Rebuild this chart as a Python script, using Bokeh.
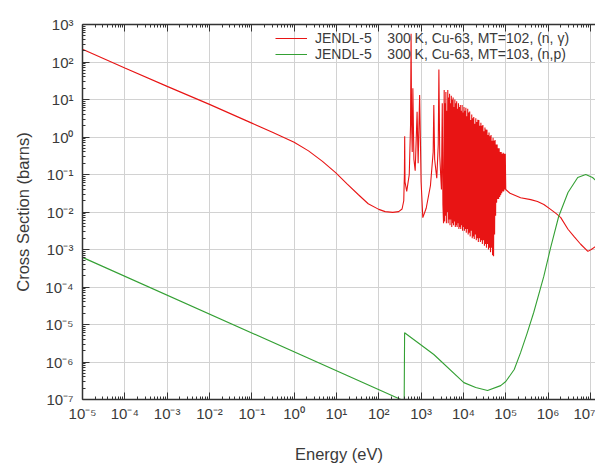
import numpy as np
from bokeh.plotting import figure
from bokeh.models import (FixedTicker, LogAxis, Legend, LegendItem,
                          CustomJSTickFormatter, Range1d)
from bokeh.embed import file_html
from bokeh.resources import INLINE

# ---------------- data (log10 units) ----------------
x_tick_exponents = list(range(-5, 8))
x_tick_labels = ["10⁻⁵", "10⁻⁴", "10⁻³", "10⁻²", "10⁻¹", "10⁰", "10¹",
                 "10²", "10³", "10⁴", "10⁵", "10⁶", "10⁷"]
y_tick_exponents = list(range(-7, 4))
y_tick_labels = ["10⁻⁷", "10⁻⁶", "10⁻⁵", "10⁻⁴", "10⁻³", "10⁻²", "10⁻¹",
                 "10⁰", "10¹", "10²", "10³"]

series_names = ["JENDL-5\u00a0\u00a0\u00a0\u00a0300 K, Cu-63, MT=102, (n, γ)",
                "JENDL-5\u00a0\u00a0\u00a0\u00a0300 K, Cu-63, MT=103, (n,p)"]
series_colors = ["#e81414", "#34a034"]

# MT=102 (n,gamma): log10(E/eV), log10(sigma/b)
ng_log10_energy = [
    -5.0, -4.0, -3.0, -2.0, -1.0, -0.5, 0.0, 0.34, 0.67, 0.98, 1.25, 1.52,
    1.75, 2.0, 2.15, 2.33, 2.47,
    2.55, 2.59, 2.605, 2.612, 2.62, 2.66, 2.72, 2.75, 2.763, 2.775, 2.79,
    2.805, 2.83, 2.86, 2.905, 2.93, 2.965, 3.0, 3.04, 3.12, 3.22, 3.285,
    3.30, 3.32, 3.37, 3.405, 3.42, 3.44, 3.48, 3.50, 3.515, 3.53,
    3.545, 3.555, 3.565, 3.575, 3.585, 3.597, 3.608, 3.618, 3.630, 3.640,
    3.650, 3.660, 3.672, 3.683, 3.693, 3.703, 3.713, 3.724, 3.735, 3.745,
    3.756, 3.766, 3.776, 3.786, 3.797, 3.808, 3.818, 3.829, 3.840, 3.851,
    3.861, 3.871, 3.882, 3.893, 3.904, 3.915, 3.926, 3.937, 3.948, 3.958,
    3.969, 3.980, 3.991, 4.002, 4.013, 4.024, 4.035, 4.046, 4.057, 4.068,
    4.079, 4.090, 4.101, 4.112, 4.124, 4.136, 4.148, 4.160, 4.172, 4.184,
    4.196, 4.208, 4.220, 4.232, 4.244, 4.256, 4.268, 4.280, 4.292, 4.304,
    4.316, 4.328, 4.340, 4.352, 4.364, 4.376, 4.388, 4.400, 4.412, 4.424,
    4.436, 4.448, 4.460, 4.472, 4.484, 4.496, 4.508, 4.520, 4.532, 4.544,
    4.556, 4.568, 4.580, 4.592, 4.604, 4.616, 4.628, 4.640, 4.652, 4.664,
    4.676, 4.688, 4.700, 4.712, 4.724, 4.736, 4.748, 4.760, 4.772, 4.784,
    4.796, 4.808, 4.820, 4.832, 4.844, 4.856, 4.868, 4.880, 4.892, 4.904,
    4.916, 4.928, 4.940, 4.952, 4.964, 4.976, 4.988, 5.000,
    5.10, 5.35, 5.59, 5.75, 5.90, 6.06, 6.20, 6.30, 6.47, 6.61, 6.77,
    6.94, 7.02, 7.12]
ng_log10_xs = [
    2.34, 1.84, 1.35, 0.87, 0.37, 0.12, -0.14, -0.37, -0.65, -0.95, -1.25,
    -1.54, -1.78, -1.93, -1.99, -2.01, -1.99,
    -1.92, -1.7, -1.0, 0.02, -1.2, -1.45, -1.0, 0.3, 2.75, 0.4, -0.4,
    1.3, -0.6, -0.9, 0.67, -0.7, 1.12, -1.2, -2.15, -1.9, -1.3, -0.4,
    0.85, -0.6, -1.1, -0.2, 1.8, -0.5, -1.4, 0.9, -1.8, -2.3,
    1.25, -2.25, 0.9, -2.1, 1.2, -2.3, 0.7, -2.0, 1.25, -2.3,
    1.05, -2.2, 1.15, -2.35, 0.9, -2.2, 1.1, -2.4, 1.0, -2.3,
    1.05, -2.35, 0.8, -2.25, 1.0, -2.4, 0.9, -2.35, 0.95, -2.4,
    0.75, -2.3, 0.9, -2.45, 0.8, -2.4, 0.85, -2.45, 0.7, -2.35,
    0.85, -2.5, 0.65, -2.4, 0.8, -2.5, 0.7, -2.45, 0.78, -2.55,
    0.55, -2.45, 0.75, -2.6, 0.65, -2.55, 0.68, -2.65, 0.45, -2.5,
    0.6, -2.7, 0.5, -2.65, 0.53, -2.72, 0.35, -2.6, 0.5, -2.75,
    0.4, -2.7, 0.46, -2.8, 0.45, -2.7, 0.3, -2.8, 0.38, -2.75,
    0.3, -2.85, 0.32, -2.75, 0.15, -2.9, 0.25, -2.85, 0.2, -2.95,
    0.19, -2.85, 0.05, -3.0, 0.12, -2.95, 0.02, -3.07, 0.05, -2.95,
    -0.1, -3.15, -0.02, -3.18, -0.1, -2.6, -0.08, -2.1, -0.2, -1.75,
    -0.2, -1.65, -0.3, -1.65, -0.3, -1.6, -0.4, -1.55, -0.4, -1.5,
    -0.45, -1.45, -0.42, -1.45, -0.45, -1.4, -0.45, -1.4,
    -1.5, -1.62, -1.67, -1.72, -1.80, -1.93, -2.05, -2.15, -2.46, -2.65,
    -2.86, -3.05, -3.0, -2.92]

# MT=103 (n,p): log10(E/eV), log10(sigma/b)
np_log10_energy = [-5.0, 2.60, 2.61, 3.30, 4.01, 4.29, 4.57, 4.88, 5.00,
                   5.20, 5.35, 5.50, 5.66, 5.90, 6.06, 6.25, 6.47, 6.70,
                   6.89, 7.05, 7.12]
np_log10_xs = [-3.21, -7.04, -5.22, -5.80, -6.55, -6.68, -6.76, -6.63, -6.52,
               -6.20, -5.75, -5.25, -4.68, -3.71, -2.95, -2.12, -1.48, -1.08,
               -1.00, -1.08, -1.15]

# ---------------- figure ----------------
FONT = "Liberation Sans"
TXT = "#3a3a3a"

p = figure(width=595, height=465, x_axis_type="log", y_axis_type="log",
           x_range=Range1d(1e-5, 10 ** 7.12), y_range=Range1d(1e-7, 1e3),
           output_backend="svg", toolbar_location=None,
           min_border_left=82, min_border_right=0, min_border_top=24,
           min_border_bottom=64, background_fill_color="white",
           border_fill_color="white")
p.outline_line_color = None

x_ticks = [10.0 ** e for e in x_tick_exponents]
y_ticks = [10.0 ** e for e in y_tick_exponents]
x_minor = [m * 10.0 ** e for e in x_tick_exponents for m in range(2, 10)]
y_minor = [m * 10.0 ** e for e in y_tick_exponents for m in range(2, 10)]
xticker = FixedTicker(ticks=x_ticks, minor_ticks=x_minor)
yticker = FixedTicker(ticks=y_ticks, minor_ticks=y_minor)

top = LogAxis(ticker=xticker, formatter=CustomJSTickFormatter(code="return ''"))
p.add_layout(top, "above")

for ax in p.xaxis + p.yaxis:
    ax.axis_line_color = "#333333"
    ax.axis_line_width = 1.5
    ax.major_tick_line_color = "#333333"
    ax.minor_tick_line_color = "#333333"
    ax.major_tick_in = 7
    ax.major_tick_out = 0
    ax.minor_tick_in = 3
    ax.minor_tick_out = 0
    ax.major_label_text_font = FONT
    ax.major_label_text_font_size = "15px"
    ax.major_label_text_color = TXT
    ax.axis_label_text_font = FONT
    ax.axis_label_text_font_size = "16.5px"
    ax.axis_label_text_font_style = "normal"
    ax.axis_label_text_color = TXT

for ax in p.xaxis:
    ax.ticker = xticker
p.below[0].major_label_overrides = dict(zip(x_ticks, x_tick_labels))
p.below[0].major_label_standoff = 5
p.below[0].axis_label = "Energy (eV)"
p.below[0].axis_label_standoff = 20

p.yaxis.ticker = yticker
p.yaxis.major_label_overrides = dict(zip(y_ticks, y_tick_labels))
p.yaxis.major_label_standoff = 9
p.yaxis.axis_label = "Cross Section (barns)"
p.yaxis.axis_label_standoff = 10

p.xgrid.ticker = xticker
p.ygrid.ticker = yticker
p.xgrid.grid_line_color = "#d2d2d2"
p.ygrid.grid_line_color = "#d2d2d2"
p.xgrid.grid_line_width = 1
p.ygrid.grid_line_width = 1

ng_E = 10.0 ** np.array(ng_log10_energy)
ng_S = 10.0 ** np.array(ng_log10_xs)
np_E = 10.0 ** np.array(np_log10_energy)
np_S = 10.0 ** np.array(np_log10_xs)

r1 = p.line(ng_E, ng_S, line_color=series_colors[0], line_width=1.1)
r2 = p.line(np_E, np_S, line_color=series_colors[1], line_width=1.1)

legend = Legend(items=[LegendItem(label=series_names[0], renderers=[r1]),
                       LegendItem(label=series_names[1], renderers=[r2])],
                location=(193, 337))
legend.background_fill_alpha = 0
legend.border_line_alpha = 0
legend.padding = 0
legend.margin = 0
legend.spacing = 0
legend.glyph_width = 32
legend.glyph_height = 16
legend.label_height = 16
legend.label_standoff = 8
legend.label_text_font = FONT
legend.label_text_font_size = "14px"
legend.label_text_color = TXT
p.add_layout(legend, "center")

open("out.html", "w").write(file_html(p, INLINE))
